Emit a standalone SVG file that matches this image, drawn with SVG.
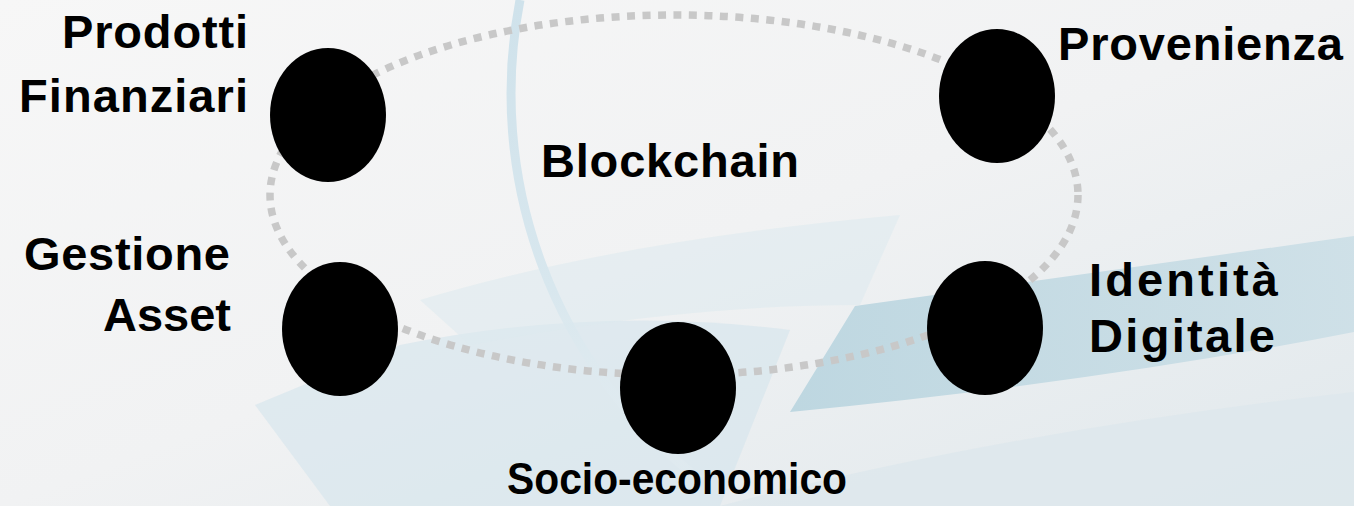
<svg xmlns="http://www.w3.org/2000/svg" width="1354" height="506" viewBox="0 0 1354 506">
<style>
.lbl{font-family:"Liberation Sans",Arial,sans-serif;font-weight:bold;font-size:47px;fill:#000}
.dot{fill:#000}
.ring{fill:none;stroke:#c8c8c8;stroke-width:7.5;stroke-dasharray:8 7.5}
</style>
<defs>
<linearGradient id="bg" x1="0" y1="0" x2="1" y2="1">
<stop offset="0" stop-color="#f7f7f7"/>
<stop offset="0.5" stop-color="#f1f2f3"/>
<stop offset="1" stop-color="#e0e8ec"/>
</linearGradient>
<linearGradient id="band" x1="0" y1="0" x2="1" y2="0">
<stop offset="0" stop-color="#b6d3de"/>
<stop offset="1" stop-color="#cadee6"/>
</linearGradient>
<linearGradient id="arcfade" x1="0" y1="0" x2="0" y2="1">
<stop offset="0" stop-color="#cfe2eb"/>
<stop offset="0.6" stop-color="#d8e7ee"/>
<stop offset="1" stop-color="#e4edf1" stop-opacity="0.3"/>
</linearGradient>
</defs>
<g id="background">
<rect width="1354" height="506" fill="url(#bg)"/>
<path d="M255 405 L400 345 Q600 305 790 330 L720 506 L330 506 Z" fill="#d6e5ec" opacity="0.65"/>
<path d="M420 300 Q620 240 900 215 L860 305 Q680 305 470 345 Z" fill="#dce9ef" opacity="0.55"/>
<path d="M855 306 Q1100 272 1354 236 L1354 332 Q1100 382 790 412 Z" fill="url(#band)" opacity="0.85"/>
<path d="M720 506 Q1000 432 1354 392 L1354 506 Z" fill="#dde7ec" opacity="0.8"/>
<path d="M520 0 A490 490 0 0 0 700 480" fill="none" stroke="url(#arcfade)" stroke-width="9"/>
</g>
<g id="connectors">
<ellipse class="ring" cx="674" cy="195" rx="404" ry="180"/>
</g>
<g id="node-prodotti">
<ellipse class="dot" cx="328" cy="115" rx="58" ry="67"/>
<text class="lbl" x="248" y="48" text-anchor="end" textLength="186">Prodotti</text>
<text class="lbl" x="248" y="112" text-anchor="end" textLength="229">Finanziari</text>
</g>
<g id="node-provenienza">
<ellipse class="dot" cx="997" cy="96" rx="58" ry="67"/>
<text class="lbl" x="1058" y="60" textLength="285">Provenienza</text>
</g>
<g id="node-blockchain">
<text class="lbl" x="541" y="177" textLength="258">Blockchain</text>
</g>
<g id="node-gestione">
<ellipse class="dot" cx="340" cy="329" rx="58" ry="67"/>
<text class="lbl" x="230" y="270" text-anchor="end" textLength="206">Gestione</text>
<text class="lbl" x="231" y="331" text-anchor="end" textLength="128">Asset</text>
</g>
<g id="node-identita">
<ellipse class="dot" cx="985" cy="328" rx="58" ry="67"/>
<text class="lbl" x="1089" y="296" textLength="189">Identità</text>
<text class="lbl" x="1089" y="352" textLength="186">Digitale</text>
</g>
<g id="node-socio">
<ellipse class="dot" cx="678" cy="388" rx="58" ry="66"/>
<text class="lbl" x="507" y="494" style="font-size:45px" textLength="340" lengthAdjust="spacingAndGlyphs">Socio-economico</text>
</g>
</svg>
